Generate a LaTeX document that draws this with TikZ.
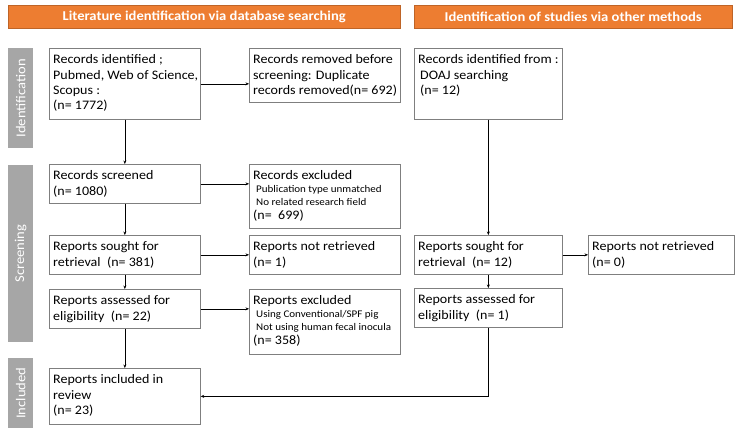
\documentclass[tikz,border=0pt]{standalone}
\usepackage{fontspec}
\setmainfont{Carlito}[FakeStretch=1.08]
\usetikzlibrary{arrows.meta}
\definecolor{hdr}{HTML}{ED7D31}
\definecolor{side}{HTML}{A6A6A6}
\definecolor{edge}{HTML}{7F7F7F}
\tikzset{
  box/.style={draw=edge, line width=0.7pt, anchor=north west, inner sep=0pt},
  lbl/.style={anchor=north west, align=left, inner xsep=4pt, inner ysep=6.5pt, font=\fontsize{13}{15.3}\selectfont},
  hdrbox/.style={fill=hdr, draw=hdr!80!black, line width=0.4pt, anchor=north west, inner sep=0pt, text=white, font=\bfseries\fontsize{13.5}{15}\selectfont},
  sidebar/.style={fill=side, anchor=north west, inner sep=0pt},
  sidetxt/.style={text=white, rotate=90, font=\fontsize{13.5}{15}\selectfont},
  arr/.style={-{Stealth[length=3.5pt,width=3pt]}, line width=0.7pt, black}
}
\newcommand{\smalltxt}[1]{{\fontsize{10.2}{11}\selectfont\hspace{3pt}#1}}
\begin{document}
\begin{tikzpicture}[x=1pt,y=-1pt]
\useasboundingbox[fill=white] (0,0) rectangle (745,434);
% headers
\node[hdrbox, minimum width=392pt, minimum height=23pt] (h1) at (8,5) {Literature identification via database searching};
\node[hdrbox, minimum width=318pt, minimum height=23pt] (h2) at (414,5) {Identification of studies via other methods};
% side bars
\node[sidebar, minimum width=25pt, minimum height=100pt] (s1) at (8,48) {};
\node[sidetxt] (s1t) at (s1.center) {Identification};
\node[sidebar, minimum width=25pt, minimum height=177pt] (s2) at (8,165) {};
\node[sidetxt] (s2t) at (s2.center) {Screening};
\node[sidebar, minimum width=25pt, minimum height=70pt] (s3) at (8,358) {};
\node[sidetxt] (s3t) at (s3.center) {Included};
% boxes
\node[box, minimum width=151pt, minimum height=71pt, label={[lbl]north west:{Records identified ;\\Pubmed, Web of Science,\\Scopus :\\(n= 1772)}}] (A) at (49,48) {};
\node[box, minimum width=151pt, minimum height=54pt, label={[lbl]north west:{Records removed before\\screening: Duplicate\\records removed(n= 692)}}] (B) at (249,48) {};
\node[box, minimum width=148pt, minimum height=71pt, label={[lbl]north west:{Records identified from :\\\hspace{2pt}DOAJ searching\\\hspace{2pt}(n= 12)}}] (C) at (414,48) {};
\node[box, minimum width=151pt, minimum height=39pt, label={[lbl]north west:{Records screened\\(n= 1080)}}] (D) at (49,164) {};
\node[box, minimum width=151pt, minimum height=64pt, label={[lbl]north west:{Records excluded\\[-2.5pt]\smalltxt{Publication type unmatched}\\[-2.5pt]\smalltxt{No related research field}\\[-1pt](n=\ \ 699)}}] (E) at (249,164) {};
\node[box, minimum width=151pt, minimum height=39pt, label={[lbl]north west:{Reports sought for\\retrieval\ \ (n= 381)}}] (F) at (49,235) {};
\node[box, minimum width=151pt, minimum height=39pt, label={[lbl]north west:{Reports not retrieved\\(n= 1)}}] (G) at (249,235) {};
\node[box, minimum width=148pt, minimum height=39pt, label={[lbl]north west:{Reports sought for\\retrieval\ \ (n= 12)}}] (H) at (414,235) {};
\node[box, minimum width=146pt, minimum height=39pt, label={[lbl]north west:{Reports not retrieved\\(n= 0)}}] (I) at (588,235) {};
\node[box, minimum width=151pt, minimum height=39pt, label={[lbl]north west:{Reports assessed for\\eligibility\ \ (n= 22)}}] (J) at (49,289) {};
\node[box, minimum width=151pt, minimum height=65pt, label={[lbl]north west:{Reports excluded\\[-2.5pt]\smalltxt{Using Conventional/SPF pig}\\[-2.5pt]\smalltxt{Not using human fecal inocula}\\[-1pt](n= 358)}}] (K) at (249,289) {};
\node[box, minimum width=148pt, minimum height=39pt, label={[lbl]north west:{Reports assessed for\\eligibility\ \ (n= 1)}}] (L) at (414,288) {};
\node[box, minimum width=151pt, minimum height=56pt, label={[lbl]north west:{Reports included in\\review\\(n= 23)}}] (M) at (49,368) {};
% arrows
\draw[arr] (A.east) -- (A.east -| B.west);
\draw[arr] (A.south) -- (D.north);
\draw[arr] (D.east) -- (D.east -| E.west);
\draw[arr] (D.south) -- (F.north);
\draw[arr] (F.east) -- (F.east -| G.west);
\draw[arr] (F.south) -- (J.north);
\draw[arr] (J.east) -- (J.east -| K.west);
\draw[arr] (J.south) -- (M.north);
\draw[arr] (C.south) -- (H.north);
\draw[arr] (H.east) -- (H.east -| I.west);
\draw[arr] (H.south) -- (L.north);
\draw[arr] (L.south) |- (M.east);
\end{tikzpicture}
\end{document}
